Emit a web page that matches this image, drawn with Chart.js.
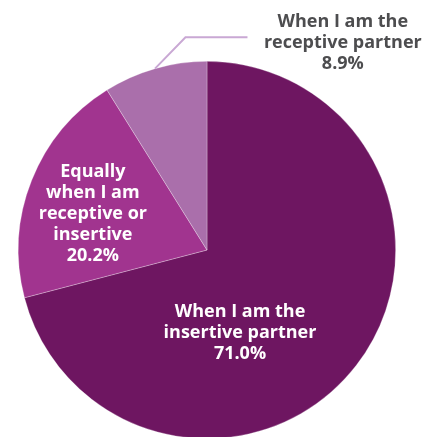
<!DOCTYPE html>
<html>
<head>
<meta charset="utf-8">
<script src="https://cdn.jsdelivr.net/npm/chart.js@4.4.0/dist/chart.umd.min.js"></script>
<style>
  html, body { margin: 0; padding: 0; background: #fff; overflow: hidden; }
  #wrap { position: absolute; left: 0; top: 0; width: 422px; height: 440px; }
</style>
</head>
<body>
<div id="wrap"><canvas id="pie"></canvas></div>
<script>
// shares of respondents, clockwise from 12 o'clock
const categories = [
    'When I am the insertive partner',
    'Equally when I am receptive or insertive',
    'When I am the receptive partner'
];
const shares = [71.0, 20.2, 8.9];
const sliceColors = ['#6e1661', '#a1348f', '#aa6fab'];

// how each label is broken over lines
const labelLines = [
    ['When I am the', 'insertive partner'],
    ['Equally', 'when I am', 'receptive or', 'insertive'],
    ['When I am the', 'receptive partner']
];

// where each label block sits, as fractions of the radius from the centre
const labelSpots = [
    { dx: 0.175, dy: 0.44, color: '#ffffff', outside: false },
    { dx: -0.605, dy: -0.19, color: '#ffffff', outside: false },
    { dx: 0.72, dy: -1.10, color: '#4d4d4f', outside: true }
];

const pieLabels = {
    id: 'pieLabels',
    afterDatasetsDraw(chart) {
        let ctx = chart.ctx;
        let arcs = chart.getDatasetMeta(0).data;
        ctx.save();
        ctx.font = 'bold 18px "Open Sans"';
        ctx.textAlign = 'center';
        ctx.textBaseline = 'middle';
        let lineH = 21;

        for (let i = 0; i < arcs.length; i++) {
            let arc = arcs[i];
            let r = arc.outerRadius;
            let spot = labelSpots[i];
            let lines = labelLines[i].concat([shares[i].toFixed(1) + '%']);
            let cx = arc.x + spot.dx * r;
            let cy = arc.y + spot.dy * r;
            let top = cy - (lines.length - 1) * lineH / 2;

            // leader line from the slice edge to the outside label
            if (spot.outside) {
                let mid = (arc.startAngle + arc.endAngle) / 2;
                let sx = arc.x + Math.cos(mid) * r;
                let sy = arc.y + Math.sin(mid) * r;
                let ey = top + lineH * 0.75;
                let ex = sx + (sy - ey) * 0.97;
                ctx.strokeStyle = '#c9a8d4';
                ctx.lineWidth = 2;
                ctx.beginPath();
                ctx.moveTo(sx, sy);
                ctx.lineTo(ex, ey);
                ctx.lineTo(ex + 62, ey);
                ctx.stroke();
            }

            ctx.fillStyle = spot.color;
            for (let j = 0; j < lines.length; j++) {
                ctx.fillText(lines[j], cx, top + j * lineH);
            }
        }
        ctx.restore();
    }
};

let pieChart = new Chart(document.getElementById('pie'), {
    type: 'pie',
    data: {
        labels: categories,
        datasets: [{
            data: shares,
            backgroundColor: sliceColors,
            borderColor: 'rgba(255,255,255,0.4)',
            borderWidth: 0.7
        }]
    },
    options: {
        responsive: true,
        maintainAspectRatio: false,
        animation: false,
        layout: { padding: { top: 61, bottom: 1, left: 18, right: 26 } },
        plugins: {
            legend: { display: false },
            tooltip: { enabled: false }
        }
    },
    plugins: [pieLabels]
});
</script>
</body>
</html>
